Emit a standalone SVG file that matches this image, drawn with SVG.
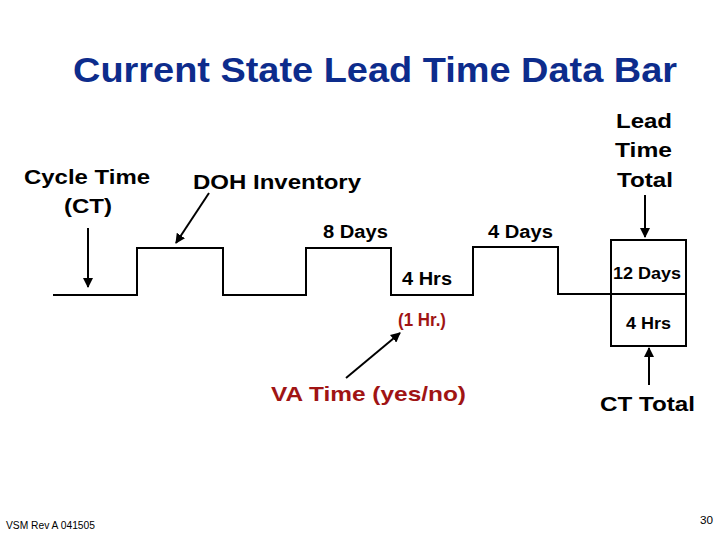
<svg xmlns="http://www.w3.org/2000/svg" width="720" height="540" viewBox="0 0 720 540">
<defs>
<style>
text{font-family:"Liberation Sans",Arial,sans-serif;font-weight:bold;fill:#000}
.t{font-size:35px;fill:#0d2c8c}
.l{font-size:21px}
.m{font-size:18px}
.r{fill:#a01414}
.s{font-size:10px;font-weight:normal}
.ln{fill:none;stroke:#000;stroke-width:2}
</style>
<marker id="ah" viewBox="0 0 10 10" refX="9" refY="5" markerWidth="5" markerHeight="5" orient="auto"><path d="M0,0L10,5L0,10z" fill="#000"/></marker>
</defs>
<rect width="720" height="540" fill="#fff"/>
<text class="t" x="73" y="82" textLength="604" lengthAdjust="spacingAndGlyphs">Current State Lead Time Data Bar</text>
<g id="databar">
<path class="ln" d="M53,295H137V248H223V295H306V248H391V295H473V247H558V294H686"/>
</g>
<g id="totalbox">
<rect class="ln" x="611" y="240" width="75" height="106"/>
<text class="m" x="613" y="279" textLength="68" lengthAdjust="spacingAndGlyphs" style="font-size:17px">12 Days</text>
<text class="m" x="626" y="329" textLength="45" lengthAdjust="spacingAndGlyphs" style="font-size:17px">4 Hrs</text>
</g>
<g id="labels">
<text class="l" x="24" y="184" textLength="126" lengthAdjust="spacingAndGlyphs">Cycle Time</text>
<text class="l" x="64" y="213" textLength="48" lengthAdjust="spacingAndGlyphs">(CT)</text>
<text class="l" x="193" y="189" textLength="168" lengthAdjust="spacingAndGlyphs">DOH Inventory</text>
<text class="m" x="323" y="238" textLength="65" lengthAdjust="spacingAndGlyphs">8 Days</text>
<text class="m" x="488" y="238" textLength="65" lengthAdjust="spacingAndGlyphs">4 Days</text>
<text class="m" x="402" y="285" textLength="50" lengthAdjust="spacingAndGlyphs">4 Hrs</text>
<text class="m r" x="398" y="326" textLength="48" lengthAdjust="spacingAndGlyphs">(1 Hr.)</text>
<text class="l r" x="271" y="401" textLength="195" lengthAdjust="spacingAndGlyphs">VA Time (yes/no)</text>
<text class="l" x="616" y="128" textLength="56" lengthAdjust="spacingAndGlyphs">Lead</text>
<text class="l" x="615" y="157" textLength="57" lengthAdjust="spacingAndGlyphs">Time</text>
<text class="l" x="617" y="187" textLength="56" lengthAdjust="spacingAndGlyphs">Total</text>
<text class="l" x="600" y="411" textLength="95" lengthAdjust="spacingAndGlyphs">CT Total</text>
<text class="s" x="6" y="529" textLength="89" lengthAdjust="spacingAndGlyphs">VSM Rev A 041505</text>
<text class="s" x="700" y="524" textLength="13" lengthAdjust="spacingAndGlyphs">30</text>
</g>
<g id="connectors">
<line class="ln" x1="88" y1="228" x2="88" y2="287" marker-end="url(#ah)"/>
<line class="ln" x1="209" y1="193" x2="176" y2="243" marker-end="url(#ah)"/>
<line class="ln" x1="645" y1="195" x2="645" y2="237" marker-end="url(#ah)"/>
<line class="ln" x1="649" y1="385" x2="649" y2="348" marker-end="url(#ah)"/>
<line class="ln" x1="346" y1="378" x2="400" y2="333" marker-end="url(#ah)"/>
</g>
</svg>
